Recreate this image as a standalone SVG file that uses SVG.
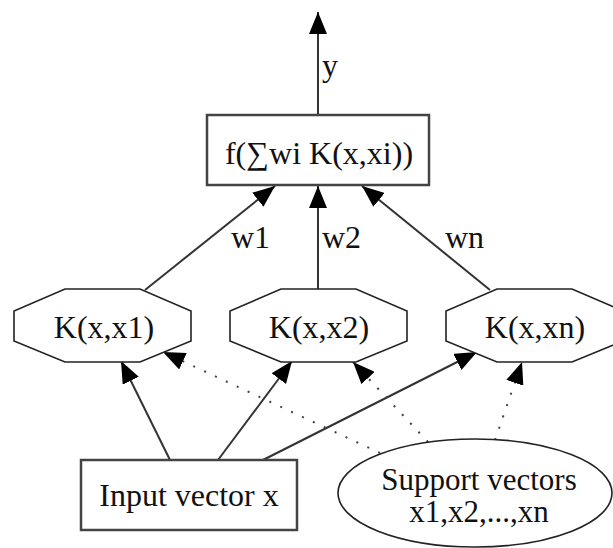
<svg xmlns="http://www.w3.org/2000/svg" width="613" height="548" viewBox="0 0 613 548">
<style>
text{font-family:"Liberation Serif","Times New Roman",serif;font-size:32px;fill:#111}
.c{text-anchor:middle}
.s{font-size:31px}
.box{fill:#fff;stroke:#444;stroke-width:2.5}
.oct{fill:#fff;stroke:#222;stroke-width:1.6}
.e{fill:none;stroke:#333;stroke-width:2}
.d{fill:none;stroke:#444;stroke-width:2;stroke-dasharray:2 10}
</style>
<defs>
<marker id="ah" viewBox="0 0 22 18" markerWidth="22" markerHeight="18" refX="22" refY="9" orient="auto" markerUnits="userSpaceOnUse">
<path d="M0,0 L22,9 L0,18 z" fill="#000"/>
</marker>
</defs>
<g id="connectors">
<line class="e" x1="318" y1="115" x2="318" y2="12" marker-end="url(#ah)"/>
<text x="322" y="76">y</text>
<line class="e" x1="145" y1="290" x2="275" y2="186" marker-end="url(#ah)"/>
<text x="231" y="248">w1</text>
<line class="e" x1="318" y1="289" x2="318" y2="186" marker-end="url(#ah)"/>
<text x="322" y="248">w2</text>
<line class="e" x1="490" y1="290" x2="362" y2="186" marker-end="url(#ah)"/>
<text x="445" y="248">wn</text>
<line class="e" x1="170" y1="460" x2="121" y2="361" marker-end="url(#ah)"/>
<line class="e" x1="218" y1="460" x2="292" y2="361" marker-end="url(#ah)"/>
<line class="e" x1="263" y1="460" x2="477" y2="352" marker-end="url(#ah)"/>
<line class="d" x1="380" y1="453" x2="163" y2="352" marker-end="url(#ah)"/>
<line class="d" x1="428" y1="442" x2="353" y2="362" marker-end="url(#ah)"/>
<line class="d" x1="495" y1="440" x2="522" y2="362" marker-end="url(#ah)"/>
</g>
<g id="f">
<rect class="box" x="207" y="115" width="222" height="70"/>
<text class="c" x="319" y="164">f(∑wi K(x,xi))</text>
</g>
<g id="k1">
<polygon class="oct" points="65,289 140,289 191,311 191,341 140,362 65,362 14,341 14,311"/>
<text class="c" x="104" y="338">K(x,x1)</text>
</g>
<g id="k2">
<polygon class="oct" points="281,289 356,289 407,311 407,341 356,362 281,362 230,341 230,311"/>
<text class="c" x="319" y="338">K(x,x2)</text>
</g>
<g id="kn">
<polygon class="oct" points="497,289 572,289 623,311 623,341 572,362 497,362 446,341 446,311"/>
<text class="c" x="535" y="338">K(x,xn)</text>
</g>
<g id="input">
<rect class="box" x="81" y="460" width="216" height="70"/>
<text class="c" x="189" y="506">Input vector x</text>
</g>
<g id="sv">
<ellipse class="oct" cx="475" cy="493" rx="137" ry="54"/>
<text class="c s" x="479" y="490">Support vectors</text>
<text class="c s" x="479" y="522">x1,x2,...,xn</text>
</g>
</svg>
